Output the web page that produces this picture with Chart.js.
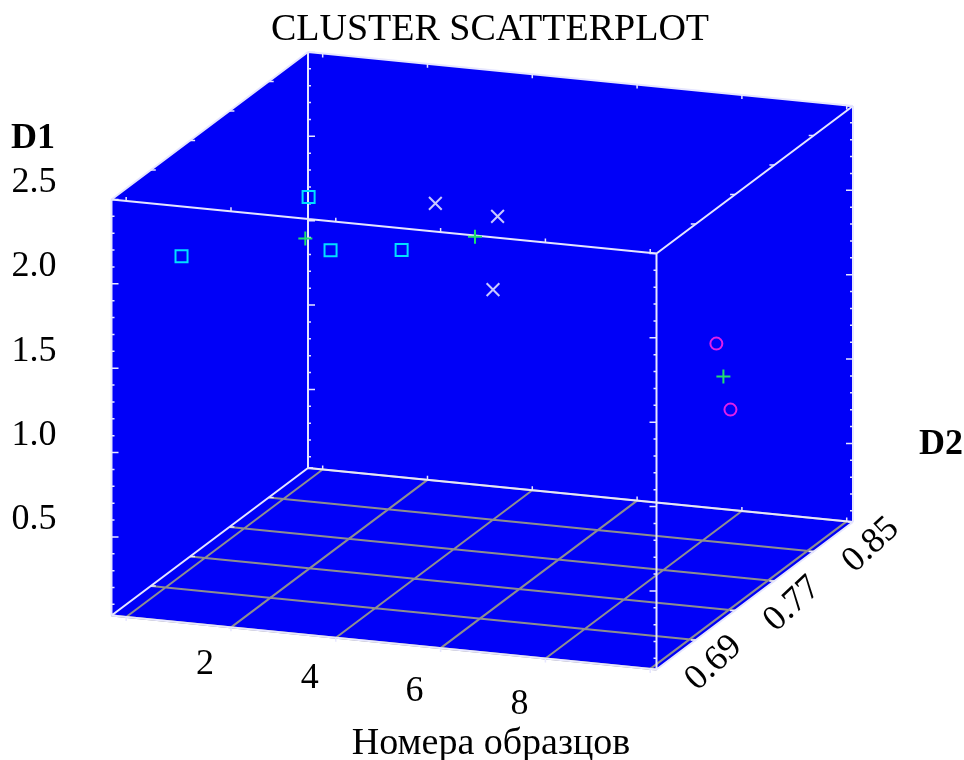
<!DOCTYPE html>
<html>
<head>
<meta charset="utf-8">
<script src="https://cdn.jsdelivr.net/npm/chart.js@4.4.1/dist/chart.umd.min.js"></script>
<style>
html, body { margin: 0; padding: 0; background: #ffffff; }
#wrap { width: 964px; height: 760px; position: relative; }
</style>
</head>
<body>
<div id="wrap"><canvas id="c" width="964" height="760"></canvas></div>
<script>
// ---------------- data ----------------
const chartTitle = 'CLUSTER SCATTERPLOT';
const xTitle = 'Номера образцов';
const d1Title = 'D1';
const d2Title = 'D2';

const xTickLabels = [2, 4, 6, 8];
const d1TickLabels = [0.5, 1.0, 1.5, 2.0, 2.5];
const d2TickLabels = [0.69, 0.77, 0.85];
const xGridValues = [0, 2, 4, 6, 8, 10];
const d2GridValues = [0.65, 0.69, 0.73, 0.77, 0.81, 0.85];

const xRange = [-0.28, 10.12];
const d2Range = [0.65, 0.85];
const d1Range = [0.034, 2.5];

// cluster 1 (squares)
const c1Sample = [1, 2, 3, 4];
const c1D2 = [0.653, 0.729, 0.698, 0.717];
const c1D1 = [2.19, 2.24, 2.09, 2.04];
// cluster 2 (crosses)
const c2Sample = [5, 6, 7];
const c2D2 = [0.698, 0.708, 0.650];
const c2D1 = [2.43, 2.34, 2.19];
// cluster 3 (circles)
const c3Sample = [8, 9];
const c3D2 = [0.824, 0.785];
const c3D1 = [1.14, 0.95];
// cluster centres
const ctrSample = [2.5, 6, 8.5];
const ctrD2 = [0.699, 0.685, 0.8045];
const ctrD1 = [2.14, 2.32, 1.045];

// ---------------- projection (box layout on the page plane) ----------------
const ORIGIN = { x: 111.5, y: 615.5 };
const AX_X = { x: 545, y: 54 };
const AX_D2 = { x: 196.5, y: -147.5 };
const AX_D1 = { x: 0, y: -416 };

function frac(v, r) { return (v - r[0]) / (r[1] - r[0]); }
function proj(x, d2, d1) {
  const u = frac(x, xRange), v = frac(d2, d2Range), w = frac(d1, d1Range);
  return {
    x: ORIGIN.x + u * AX_X.x + v * AX_D2.x + w * AX_D1.x,
    y: ORIGIN.y + u * AX_X.y + v * AX_D2.y + w * AX_D1.y
  };
}
function pts(xs, d2s, d1s) { return xs.map((x, i) => proj(x, d2s[i], d1s[i])); }
function segs(list) {
  const out = [];
  list.forEach(s => { out.push(s[0], s[1], { x: null, y: null }); });
  return out;
}
function off(p, dx, dy) { return { x: p.x + dx, y: p.y + dy }; }

const X0 = xRange[0], X1 = xRange[1], E0 = d2Range[0], E1 = d2Range[1], Z0 = d1Range[0], Z1 = d1Range[1];

// box silhouette
const silhouette = [
  proj(X0, E0, Z1), proj(X0, E1, Z1), proj(X1, E1, Z1), proj(X1, E1, Z0),
  proj(X1, E0, Z0), proj(X0, E0, Z0), proj(X0, E0, Z1)
];

// box edges
const edgeList = [];
[[E0, Z0], [E1, Z0], [E0, Z1], [E1, Z1]].forEach(([e, z]) => edgeList.push([proj(X0, e, z), proj(X1, e, z)]));
[[X0, Z0], [X1, Z0], [X0, Z1], [X1, Z1]].forEach(([x, z]) => edgeList.push([proj(x, E0, z), proj(x, E1, z)]));
[[X0, E0], [X1, E0], [X0, E1], [X1, E1]].forEach(([x, e]) => edgeList.push([proj(x, e, Z0), proj(x, e, Z1)]));

// floor grid
const gridList = [];
xGridValues.forEach(x => gridList.push([proj(x, E0, Z0), proj(x, E1, Z0)]));
d2GridValues.forEach(e => gridList.push([proj(X0, e, Z0), proj(X1, e, Z0)]));

// tick marks
const tickList = [];
for (let k = 1; k <= 25; k++) {
  const z = k / 10;
  const len = (k % 5 === 0) ? 7 : 3;
  [[X0, E0, 1], [X0, E1, 1], [X1, E0, -1], [X1, E1, -1]].forEach(([x, e, dir]) => {
    const p = proj(x, e, z);
    tickList.push([p, off(p, dir * len, 0)]);
  });
}
d2GridValues.forEach(e => {
  [[X0, Z1, 1], [X1, Z1, -1], [X0, Z0, 1], [X1, Z0, -1]].forEach(([x, z, dir]) => {
    const p = proj(x, e, z);
    tickList.push([p, off(p, dir * 5, 0)]);
  });
});
xGridValues.forEach(x => {
  [[E0, Z1, -1], [E1, Z1, 1], [E0, Z0, 1], [E1, Z0, -1]].forEach(([e, z, dir]) => {
    const p = proj(x, e, z);
    tickList.push([p, off(p, 0, dir * 4)]);
  });
});

// ---------------- text plugin ----------------
const SERIF = '"Liberation Serif", "Times New Roman", serif';
const textPlugin = {
  id: 'texts',
  afterDraw(chart) {
    const ctx = chart.ctx;
    const sx = chart.scales.x, sy = chart.scales.y;
    const P = (x, e, z) => { const p = proj(x, e, z); return [sx.getPixelForValue(p.x), sy.getPixelForValue(p.y)]; };
    ctx.save();
    ctx.fillStyle = '#000';
    ctx.textBaseline = 'middle';
    // title
    ctx.font = '38px ' + SERIF;
    ctx.textAlign = 'center';
    ctx.fillText(chartTitle, 490, 30);
    // x title
    ctx.fillText(xTitle, 491, 744);
    // axis names
    ctx.font = 'bold 36px ' + SERIF;
    ctx.textAlign = 'left';
    ctx.fillText(d1Title, 11, 139);
    ctx.textAlign = 'right';
    ctx.fillText(d2Title, 963, 445);
    // D1 tick labels
    ctx.font = '36px ' + SERIF;
    ctx.textAlign = 'left';
    d1TickLabels.forEach(v => {
      const [px, py] = P(X0, E0, v);
      ctx.fillText(v.toFixed(1), px - 100, py - 17);
    });
    // x tick labels
    ctx.textAlign = 'center';
    xTickLabels.forEach(v => {
      const [px, py] = P(v, E0, Z0);
      ctx.fillText(String(v), px - 26, py + 37.5 + 1.45 * (v - 2));
    });
    // D2 tick labels (rotated)
    d2TickLabels.forEach(v => {
      const [px, py] = P(X1, v, Z0);
      ctx.save();
      ctx.translate(px + 18, py + 23);
      ctx.rotate(-43 * Math.PI / 180);
      ctx.fillText(v.toFixed(2), 0, 0);
      ctx.restore();
    });
    ctx.restore();
  }
};

const lineDs = (data, color, width, order, extra) => Object.assign({
  data, showLine: true, borderColor: color, borderWidth: width,
  pointRadius: 0, pointHoverRadius: 0, fill: false, order, spanGaps: false, tension: 0
}, extra || {});

new Chart(document.getElementById('c'), {
  type: 'scatter',
  data: {
    datasets: [
      lineDs(silhouette, 'rgba(0,0,0,0)', 0, 50, { fill: 'shape', backgroundColor: '#0000F8' }),
      lineDs(segs(gridList), '#8E8E8E', 2, 40),
      lineDs(segs(edgeList), '#E6E6FF', 2, 30),
      lineDs(segs(tickList), '#E6E6FF', 1.5, 20),
      { data: pts(c1Sample, c1D2, c1D1), pointStyle: 'rect', pointRadius: 8.5, borderColor: '#00E0FF', backgroundColor: 'rgba(0,0,0,0)', borderWidth: 2, order: 4 },
      { data: pts(c2Sample, c2D2, c2D1), pointStyle: 'crossRot', pointRadius: 9, borderColor: '#C8C8FF', backgroundColor: 'rgba(0,0,0,0)', borderWidth: 2, order: 3 },
      { data: pts(c3Sample, c3D2, c3D1), pointStyle: 'circle', pointRadius: 6, borderColor: '#E020E8', backgroundColor: 'rgba(0,0,0,0)', borderWidth: 2, order: 2 },
      { data: pts(ctrSample, ctrD2, ctrD1), pointStyle: 'cross', pointRadius: 7, borderColor: '#20E070', backgroundColor: 'rgba(0,0,0,0)', borderWidth: 2, order: 1 }
    ]
  },
  options: {
    responsive: false,
    animation: false,
    events: [],
    layout: { padding: 0, autoPadding: false },
    scales: {
      x: { type: 'linear', min: 0, max: 964, display: false },
      y: { type: 'linear', min: 0, max: 760, reverse: true, display: false }
    },
    plugins: { legend: { display: false }, tooltip: { enabled: false }, title: { display: false } }
  },
  plugins: [textPlugin]
});
</script>
</body>
</html>
